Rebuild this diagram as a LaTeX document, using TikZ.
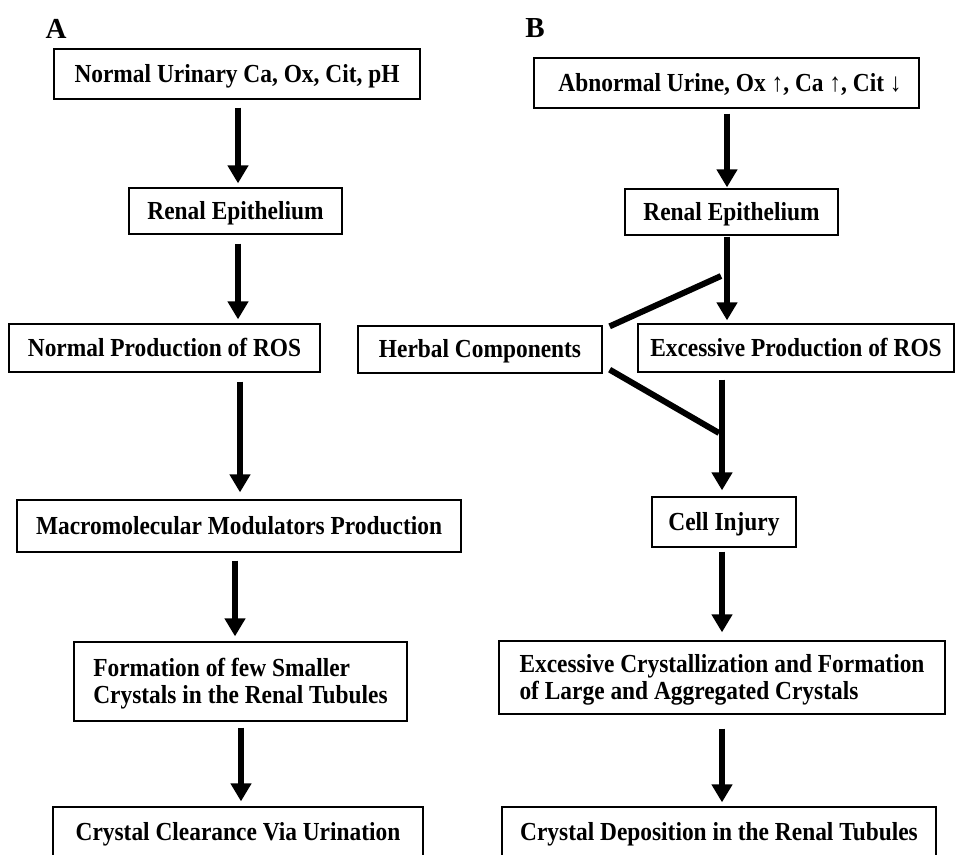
\documentclass[tikz,border=0pt]{standalone}
\usepackage{fontspec}
\setmainfont{Liberation Serif}[FakeStretch=0.9]
\newfontfamily\labelfont{Liberation Serif}
\usetikzlibrary{arrows.meta}
\begin{document}
\begin{tikzpicture}[x=1pt,y=-1pt,
  box/.style={draw=black, line width=1.3pt, inner sep=0pt, align=center,
    font=\fontsize{26}{27}\selectfont\bfseries},
  one/.style={text height=20pt, text depth=4pt},
  two/.style={text height=20pt, text depth=31pt},
  panel/.style={inner sep=0pt, font=\labelfont\fontsize{29}{31}\selectfont\bfseries},
  arr/.style={line width=5.5pt, -{Triangle[length=18pt,width=20pt]}},
  bar/.style={line width=6pt}]
\fill[white] (0,0) rectangle (958,854);
\useasboundingbox (0,0) rectangle (958,854);
\clip (0,0) rectangle (958,854);

% panel labels
\node[panel] (lA) at (56,29) {A};
\node[panel] (lB) at (535,28) {B};

% column A
\node[box, one, minimum width=366pt, minimum height=50pt] (a1) at (237,74) {Normal Urinary Ca, Ox, Cit, pH};
\node[box, one, minimum width=213pt, minimum height=46pt] (a2) at (235.5,211) {Renal Epithelium};
\node[box, one, minimum width=311pt, minimum height=48pt] (a3) at (164.5,348) {Normal Production of ROS};
\node[box, one, minimum width=444pt, minimum height=52pt] (a4) at (239,526) {Macromolecular Modulators Production};
\node[box, two, minimum width=333pt, minimum height=79pt] (a5) at (240.5,681.5) {\begin{tabular}[t]{@{}l@{}}Formation of few Smaller\\Crystals in the Renal Tubules\end{tabular}};
\node[box, one, minimum width=370pt, minimum height=51pt] (a6) at (238,832.5) {Crystal Clearance Via Urination};

% column B
\node[box, one, minimum width=385pt, minimum height=50pt] (b1) at (726.5,83) {\hspace*{7pt}Abnormal Urine, Ox ↑, Ca ↑, Cit ↓};
\node[box, one, minimum width=213pt, minimum height=46pt] (b2) at (731.5,212) {Renal Epithelium};
\node[box, one, minimum width=244pt, minimum height=47pt] (herb) at (480,349.5) {Herbal Components};
\node[box, one, minimum width=316pt, minimum height=48pt] (b3) at (796,348) {Excessive Production of ROS};
\node[box, one, minimum width=144pt, minimum height=50pt] (b4) at (724,522) {Cell Injury};
\node[box, two, minimum width=446pt, minimum height=73pt] (b5) at (722,677.5) {\begin{tabular}[t]{@{}l@{}}Excessive Crystallization and Formation\\of Large and Aggregated Crystals\end{tabular}};
\node[box, one, minimum width=434pt, minimum height=51pt] (b6) at (719,832.5) {Crystal Deposition in the Renal Tubules};

% arrow columns
\coordinate (xa1) at (238,0);
\coordinate (xa2) at (240,0);
\coordinate (xa3) at (235,0);
\coordinate (xa4) at (241,0);
\coordinate (xb1) at (727,0);
\coordinate (xb2) at (722,0);

% arrows A
\draw[arr, shorten <=8pt, shorten >=4pt] (a1.south -| xa1) -- (a2.north -| xa1);
\draw[arr, shorten <=9pt, shorten >=4pt] (a2.south -| xa1) -- (a3.north -| xa1);
\draw[arr, shorten <=9pt, shorten >=7pt] (a3.south -| xa2) -- (a4.north -| xa2);
\draw[arr, shorten <=8pt, shorten >=5pt] (a4.south -| xa3) -- (a5.north -| xa3);
\draw[arr, shorten <=6pt, shorten >=5pt] (a5.south -| xa4) -- (a6.north -| xa4);

% arrows B
\draw[arr, shorten <=5pt, shorten >=1pt] (b1.south -| xb1) -- (b2.north -| xb1);
\draw[arr, shorten <=1pt, shorten >=3pt] (b2.south -| xb1) -- (b3.north -| xb1);
\draw[arr, shorten <=7pt, shorten >=6pt] (b3.south -| xb2) -- (b4.north -| xb2);
\draw[arr, shorten <=4pt, shorten >=8pt] (b4.south -| xb2) -- (b5.north -| xb2);
\draw[arr, shorten <=14pt, shorten >=4pt] (b5.south -| xb2) -- (b6.north -| xb2);

% herbal inhibition lines
\coordinate (hu) at (721,276);
\coordinate (hl) at (719,433);
\draw[bar] ([xshift=7pt,yshift=-1pt]herb.north east) -- (hu);
\draw[bar] ([xshift=7pt,yshift=4pt]herb.south east) -- (hl);
\end{tikzpicture}
\end{document}
